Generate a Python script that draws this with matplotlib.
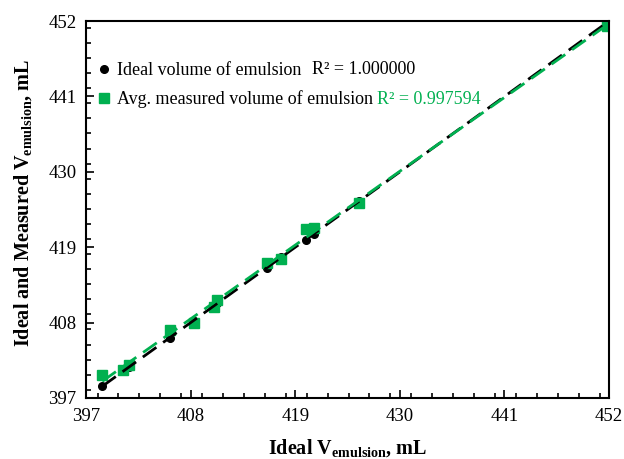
import numpy as np
import matplotlib.pyplot as plt
from matplotlib.ticker import MultipleLocator

# values
ideal = [398.7, 400.9, 401.5, 405.8, 408.3, 410.5, 410.8, 416.0, 417.5, 420.1, 421.0, 425.7, 451.8]
measured = [400.4, 401.1, 401.8, 406.9, 407.9, 410.3, 411.3, 416.7, 417.3, 421.6, 421.8, 425.5, 451.3]
ticks = [397, 408, 419, 430, 441, 452]
r2_ideal = "R² = 1.000000"
r2_measured = "R² = 0.997594"

green = '#00B050'

plt.rcParams['font.family'] = ['Liberation Serif', 'DejaVu Serif']
plt.rcParams['mathtext.fontset'] = 'custom'
plt.rcParams['mathtext.rm'] = 'Liberation Serif'
plt.rcParams['mathtext.bf'] = 'Liberation Serif:bold'

fig = plt.figure(figsize=(6.24, 4.59), dpi=100)
ax = fig.add_axes([0.138, 0.133, 0.838, 0.821])

x = np.array(ideal)
y = np.array(measured)

# trend lines
xs = np.array([x.min(), x.max()])
c1 = np.polyfit(x, x, 1)
c2 = np.polyfit(x, y, 1)
ax.plot(xs, np.polyval(c1, xs), color='black', lw=2, dashes=(6, 3), zorder=3)
ax.plot(xs, np.polyval(c2, xs), color=green, lw=2, dashes=(6, 3), zorder=4)

ax.plot(x, x, 'o', color='black', ms=5.5, zorder=2, label='Ideal volume of emulsion')
ax.plot(x, y, 's', color=green, ms=6.5, zorder=2, label='Avg. measured volume of emulsion')

ax.set_xlim(397, 452)
ax.set_ylim(397, 452)
ax.set_xticks(ticks)
ax.set_yticks(ticks)
ax.xaxis.set_minor_locator(MultipleLocator(2.2))
ax.yaxis.set_minor_locator(MultipleLocator(2.2))
ax.tick_params(which='both', direction='in', labelsize=13.5, width=1.2)
ax.tick_params(which='major', length=6, pad=7)
ax.tick_params(which='minor', length=3.5)
for s in ax.spines.values():
    s.set_linewidth(1.5)

ax.set_xlabel(r'Ideal V$_{\mathbf{emulsion}}$, mL', fontsize=14.5, fontweight='bold', labelpad=9)
ax.set_ylabel(r'Ideal and Measured V$_{\mathbf{emulsion}}$, mL', fontsize=14.5, fontweight='bold')
ax.yaxis.set_label_coords(-0.1, 0.517)

ax.legend(loc='upper left', bbox_to_anchor=(0.0, 0.925), frameon=False, fontsize=13,
          handlelength=0.6, handletextpad=0.4, borderaxespad=0.3, labelspacing=0.62)

fig.text(312 / 624, 1 - 70 / 459, r2_ideal, fontsize=13, color='black', va='center')
fig.text(377 / 624, 1 - 99 / 459, r2_measured, fontsize=13, color=green, va='center')

plt.savefig('out.png', dpi=100)
